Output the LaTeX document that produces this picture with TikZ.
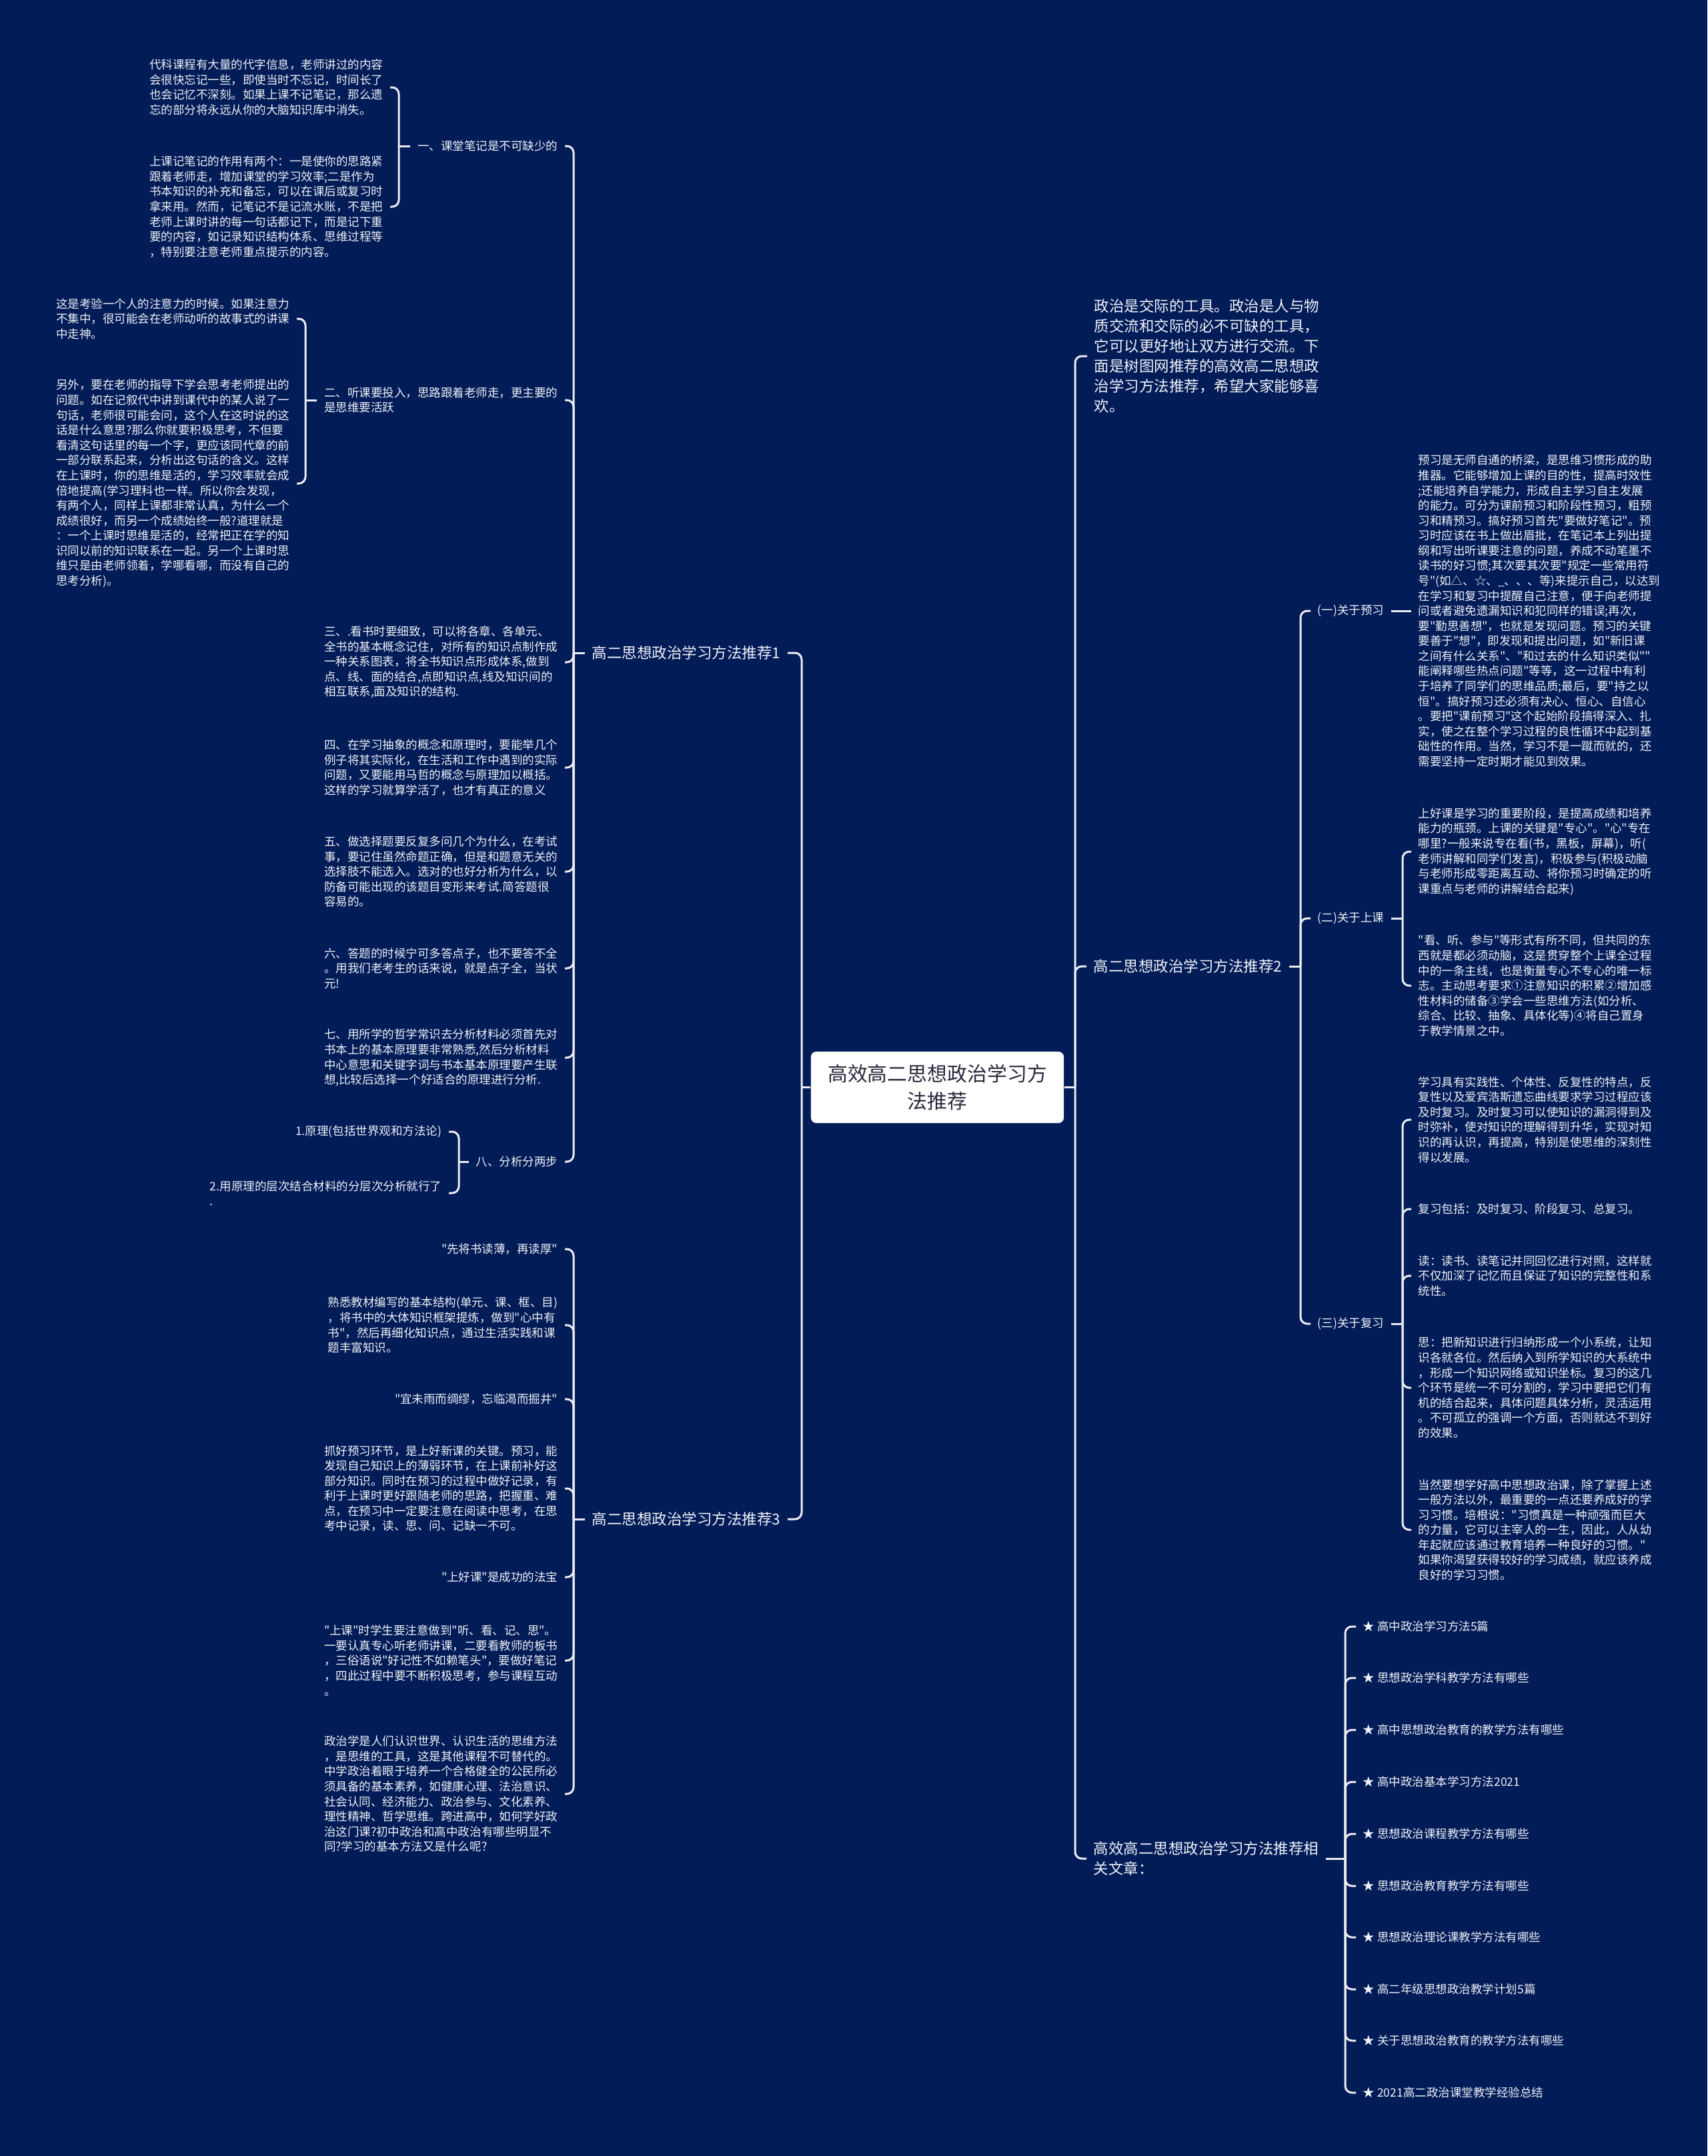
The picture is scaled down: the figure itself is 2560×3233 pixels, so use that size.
\documentclass[tikz,border=0pt]{standalone}
\usepackage{fontspec}
\setmainfont{Noto Sans CJK SC}[Ligatures=TeXOff]
\definecolor{bg}{RGB}{2,28,88}
\definecolor{txt}{RGB}{240,242,246}
\definecolor{linec}{RGB}{236,236,240}
\definecolor{roottxt}{RGB}{40,40,60}
\newcommand{\leaffont}{\fontsize{4.98pt}{6.42pt}\selectfont}
\newcommand{\branchfont}{\fontsize{6.4pt}{8.55pt}\selectfont}
\newcommand{\rootfont}{\fontsize{8.5pt}{11.7pt}\selectfont}
\tikzset{
  leaf/.style={text=txt, font=\leaffont, align=left, inner xsep=0.1cm, inner ysep=0.02cm},
  lleaf/.style={leaf, anchor=east},
  rleaf/.style={leaf, anchor=west},
  brnode/.style={text=txt, font=\branchfont, align=left, inner xsep=0.1cm, inner ysep=0.02cm},
  conn/.style={draw=linec, line width=0.03cm, rounded corners=0.1cm},
  rootnode/.style={fill=white, text=roottxt, font=\rootfont, align=center, rounded corners=0.08cm, minimum width=3.79cm, minimum height=1.07cm, inner sep=0pt}
}
\begin{document}
\begin{tikzpicture}[x=0.01cm,y=-0.01cm]
\useasboundingbox (0,0) rectangle (2560,3233);
\fill[bg] (0,0) rectangle (2560,3233);

% bracket coordinates
\coordinate (L0) at (1202,0);
\coordinate (L1) at (860,0);
\coordinate (L11) at (598,0);
\coordinate (L12) at (458,0);
\coordinate (L18) at (688,0);
\coordinate (L3) at (860,0);
\coordinate (R0) at (1612,0);
\coordinate (R2) at (1950,0);
\coordinate (R22) at (2103,0);
\coordinate (R23) at (2103,0);
\coordinate (R4) at (2017,0);

% root
\node[rootnode] (root) at (1405.5,1630.5) {高效高二思想政治学习方\\法推荐};

% ---------- left side ----------
\node[brnode, anchor=east] (b1) at (1181,979) {高二思想政治学习方法推荐1};
\node[brnode, anchor=east] (b3) at (1181,2278) {高二思想政治学习方法推荐3};

\node[lleaf] (n1) at (847,219) {一、课堂笔记是不可缺少的};
\node[lleaf] (n2) at (847,600) {二、听课要投入，思路跟着老师走，更主要的\\是思维要活跃};
\node[lleaf] (n3) at (847,993) {三、.看书时要细致，可以将各章、各单元、\\全书的基本概念记住，对所有的知识点制作成\\一种关系图表，将全书知识点形成体系,做到\\点、线、面的结合,点即知识点,线及知识间的\\相互联系,面及知识的结构.};
\node[lleaf] (n4) at (847,1151) {四、在学习抽象的概念和原理时，要能举几个\\例子将其实际化，在生活和工作中遇到的实际\\问题，又要能用马哲的概念与原理加以概括。\\这样的学习就算学活了，也才有真正的意义};
\node[lleaf] (n5) at (847,1307) {五、做选择题要反复多问几个为什么，在考试\\事，要记住虽然命题正确，但是和题意无关的\\选择肢不能选入。选对的也好分析为什么，以\\防备可能出现的该题目变形来考试.简答题很\\容易的。};
\node[lleaf] (n6) at (847,1452) {六、答题的时候宁可多答点子，也不要答不全\\。用我们老考生的话来说，就是点子全，当状\\元!};
\node[lleaf] (n7) at (847,1586) {七、用所学的哲学常识去分析材料必须首先对\\书本上的基本原理要非常熟悉,然后分析材料\\中心意思和关键字词与书本基本原理要产生联\\想,比较后选择一个好适合的原理进行分析.};
\node[lleaf] (n8) at (847,1742) {八、分析分两步};

\node[lleaf] (a1) at (585,131) {代科课程有大量的代字信息，老师讲过的内容\\会很快忘记一些，即使当时不忘记，时间长了\\也会记忆不深刻。如果上课不记笔记，那么遗\\忘的部分将永远从你的大脑知识库中消失。};
\node[lleaf] (a2) at (585,310) {上课记笔记的作用有两个：一是使你的思路紧\\跟着老师走，增加课堂的学习效率;二是作为\\书本知识的补充和备忘，可以在课后或复习时\\拿来用。然而，记笔记不是记流水账，不是把\\老师上课时讲的每一句话都记下，而是记下重\\要的内容，如记录知识结构体系、思维过程等\\，特别要注意老师重点提示的内容。};

\node[lleaf] (bb1) at (445,478) {这是考验一个人的注意力的时候。如果注意力\\不集中，很可能会在老师动听的故事式的讲课\\中走神。};
\node[lleaf] (bb2) at (445,725) {另外，要在老师的指导下学会思考老师提出的\\问题。如在记叙代中讲到课代中的某人说了一\\句话，老师很可能会问，这个人在这时说的这\\话是什么意思?那么你就要积极思考，不但要\\看清这句话里的每一个字，更应该同代章的前\\一部分联系起来，分析出这句话的含义。这样\\在上课时，你的思维是活的，学习效率就会成\\倍地提高(学习理科也一样。所以你会发现，\\有两个人，同样上课都非常认真，为什么一个\\成绩很好，而另一个成绩始终一般?道理就是\\：一个上课时思维是活的，经常把正在学的知\\识同以前的知识联系在一起。另一个上课时思\\维只是由老师领着，学哪看哪，而没有自己的\\思考分析)。};

\node[lleaf] (c81) at (673,1697) {1.原理(包括世界观和方法论)};
\node[lleaf] (c82) at (673,1789) {2.用原理的层次结合材料的分层次分析就行了\\.};

\node[lleaf] (d1) at (847,1873) {"先将书读薄，再读厚"};
\node[lleaf] (d2) at (847,1987) {熟悉教材编写的基本结构(单元、课、框、目)\\，将书中的大体知识框架提炼，做到"心中有\\书"，然后再细化知识点，通过生活实践和课\\题丰富知识。};
\node[lleaf] (d3) at (847,2098) {"宜未雨而绸缪，忘临渴而掘井"};
\node[lleaf] (d4) at (847,2232) {抓好预习环节，是上好新课的关键。预习，能\\发现自己知识上的薄弱环节，在上课前补好这\\部分知识。同时在预习的过程中做好记录，有\\利于上课时更好跟随老师的思路，把握重、难\\点，在预习中一定要注意在阅读中思考，在思\\考中记录，读、思、问、记缺一不可。};
\node[lleaf] (d5) at (847,2365) {"上好课"是成功的法宝};
\node[lleaf] (d6) at (847,2490) {"上课"时学生要注意做到"听、看、记、思"。\\一要认真专心听老师讲课，二要看教师的板书\\，三俗语说"好记性不如赖笔头"，要做好笔记\\，四此过程中要不断积极思考，参与课程互动\\。};
\node[lleaf] (d7) at (847,2690) {政治学是人们认识世界、认识生活的思维方法\\，是思维的工具，这是其他课程不可替代的。\\中学政治着眼于培养一个合格健全的公民所必\\须具备的基本素养，如健康心理、法治意识、\\社会认同、经济能力、政治参与、文化素养、\\理性精神、哲学思维。跨进高中，如何学好政\\治这门课?初中政治和高中政治有哪些明显不\\同?学习的基本方法又是什么呢?};

% ---------- right side ----------
\node[brnode, anchor=west] (intro) at (1630,534) {政治是交际的工具。政治是人与物\\质交流和交际的必不可缺的工具，\\它可以更好地让双方进行交流。下\\面是树图网推荐的高效高二思想政\\治学习方法推荐，希望大家能够喜\\欢。};
\node[brnode, anchor=west] (b2) at (1629,1449) {高二思想政治学习方法推荐2};
\node[brnode, anchor=west] (rel) at (1629,2787) {高效高二思想政治学习方法推荐相\\关文章：};

\node[rleaf] (p1) at (1965,916) {(一)关于预习};
\node[rleaf] (p2) at (1965,1377) {(二)关于上课};
\node[rleaf] (p3) at (1965,1985) {(三)关于复习};

\node[rleaf] (q1) at (2116,916) {预习是无师自通的桥梁，是思维习惯形成的助\\推器。它能够增加上课的目的性，提高时效性\\;还能培养自学能力，形成自主学习自主发展\\的能力。可分为课前预习和阶段性预习，粗预\\习和精预习。搞好预习首先"要做好笔记"。预\\习时应该在书上做出眉批，在笔记本上列出提\\纲和写出听课要注意的问题，养成不动笔墨不\\读书的好习惯;其次要其次要"规定一些常用符\\号"(如△、☆、\_、、、等)来提示自己，以达到\\在学习和复习中提醒自己注意，便于向老师提\\问或者避免遗漏知识和犯同样的错误;再次，\\要"勤思善想"，也就是发现问题。预习的关键\\要善于"想"，即发现和提出问题，如"新旧课\\之间有什么关系"、"和过去的什么知识类似""\\能阐释哪些热点问题"等等，这一过程中有利\\于培养了同学们的思维品质;最后，要"持之以\\恒"。搞好预习还必须有决心、恒心、自信心\\。要把"课前预习"这个起始阶段搞得深入、扎\\实，使之在整个学习过程的良性循环中起到基\\础性的作用。当然，学习不是一蹴而就的，还\\需要坚持一定时期才能见到效果。};

\node[rleaf] (r1) at (2116,1277) {上好课是学习的重要阶段，是提高成绩和培养\\能力的瓶颈。上课的关键是"专心"。"心"专在\\哪里?一般来说专在看(书，黑板，屏幕)，听(\\老师讲解和同学们发言)，积极参与(积极动脑\\与老师形成零距离互动、将你预习时确定的听\\课重点与老师的讲解结合起来)};
\node[rleaf] (r2) at (2116,1478) {"看、听、参与"等形式有所不同，但共同的东\\西就是都必须动脑，这是贯穿整个上课全过程\\中的一条主线，也是衡量专心不专心的唯一标\\志。主动思考要求①注意知识的积累②增加感\\性材料的储备③学会一些思维方法(如分析、\\综合、比较、抽象、具体化等)④将自己置身\\于教学情景之中。};

\node[rleaf] (s1) at (2116,1679) {学习具有实践性、个体性、反复性的特点，反\\复性以及爱宾浩斯遗忘曲线要求学习过程应该\\及时复习。及时复习可以使知识的漏洞得到及\\时弥补，使对知识的理解得到升华，实现对知\\识的再认识，再提高，特别是使思维的深刻性\\得以发展。};
\node[rleaf] (s2) at (2116,1813) {复习包括：及时复习、阶段复习、总复习。};
\node[rleaf] (s3) at (2116,1913) {读：读书、读笔记并同回忆进行对照，这样就\\不仅加深了记忆而且保证了知识的完整性和系\\统性。};
\node[rleaf] (s4) at (2116,2081) {思：把新知识进行归纳形成一个小系统，让知\\识各就各位。然后纳入到所学知识的大系统中\\，形成一个知识网络或知识坐标。复习的这几\\个环节是统一不可分割的，学习中要把它们有\\机的结合起来，具体问题具体分析，灵活运用\\。不可孤立的强调一个方面，否则就达不到好\\的效果。};
\node[rleaf] (s5) at (2116,2294) {当然要想学好高中思想政治课，除了掌握上述\\一般方法以外，最重要的一点还要养成好的学\\习习惯。培根说："习惯真是一种顽强而巨大\\的力量，它可以主宰人的一生，因此，人从幼\\年起就应该通过教育培养一种良好的习惯。"\\如果你渴望获得较好的学习成绩，就应该养成\\良好的学习习惯。};

\node[rleaf] (t1) at (2033,2439) {★ 高中政治学习方法5篇};
\node[rleaf] (t2) at (2033,2516) {★ 思想政治学科教学方法有哪些};
\node[rleaf] (t3) at (2033,2594) {★ 高中思想政治教育的教学方法有哪些};
\node[rleaf] (t4) at (2033,2672) {★ 高中政治基本学习方法2021};
\node[rleaf] (t5) at (2033,2750) {★ 思想政治课程教学方法有哪些};
\node[rleaf] (t6) at (2033,2828) {★ 思想政治教育教学方法有哪些};
\node[rleaf] (t7) at (2033,2905) {★ 思想政治理论课教学方法有哪些};
\node[rleaf] (t8) at (2033,2983) {★ 高二年级思想政治教学计划5篇};
\node[rleaf] (t9) at (2033,3060) {★ 关于思想政治教育的教学方法有哪些};
\node[rleaf] (t10) at (2033,3138) {★ 2021高二政治课堂教学经验总结};

% ---------- connectors ----------
% root left
\draw[conn] (root.west) -- (root.west -| L0);
\foreach \c in {b1,b3} \draw[conn] (root.west -| L0) |- (\c.east);
% root right
\draw[conn] (root.east) -- (root.east -| R0);
\foreach \c in {intro,b2,rel} \draw[conn] (root.east -| R0) |- (\c.west);

% branch 1
\draw[conn] (b1.west) -- (b1.west -| L1);
\foreach \c in {n1,n2,n3,n4,n5,n6,n7,n8} \draw[conn] (b1.west -| L1) |- (\c.east);
\draw[conn] (n1.west) -- (n1.west -| L11);
\foreach \c in {a1,a2} \draw[conn] (n1.west -| L11) |- (\c.east);
\draw[conn] (n2.west) -- (n2.west -| L12);
\foreach \c in {bb1,bb2} \draw[conn] (n2.west -| L12) |- (\c.east);
\draw[conn] (n8.west) -- (n8.west -| L18);
\foreach \c in {c81,c82} \draw[conn] (n8.west -| L18) |- (\c.east);

% branch 3
\draw[conn] (b3.west) -- (b3.west -| L3);
\foreach \c in {d1,d2,d3,d4,d5,d6,d7} \draw[conn] (b3.west -| L3) |- (\c.east);

% branch 2
\draw[conn] (b2.east) -- (b2.east -| R2);
\foreach \c in {p1,p2,p3} \draw[conn] (b2.east -| R2) |- (\c.west);
\draw[conn] (p1.east) -- (q1.west);
\draw[conn] (p2.east) -- (p2.east -| R22);
\foreach \c in {r1,r2} \draw[conn] (p2.east -| R22) |- (\c.west);
\draw[conn] (p3.east) -- (p3.east -| R23);
\foreach \c in {s1,s2,s3,s4,s5} \draw[conn] (p3.east -| R23) |- (\c.west);

% related
\draw[conn] (rel.east) -- (rel.east -| R4);
\foreach \c in {t1,t2,t3,t4,t5,t6,t7,t8,t9,t10} \draw[conn] (rel.east -| R4) |- (\c.west);
\end{tikzpicture}
\end{document}
